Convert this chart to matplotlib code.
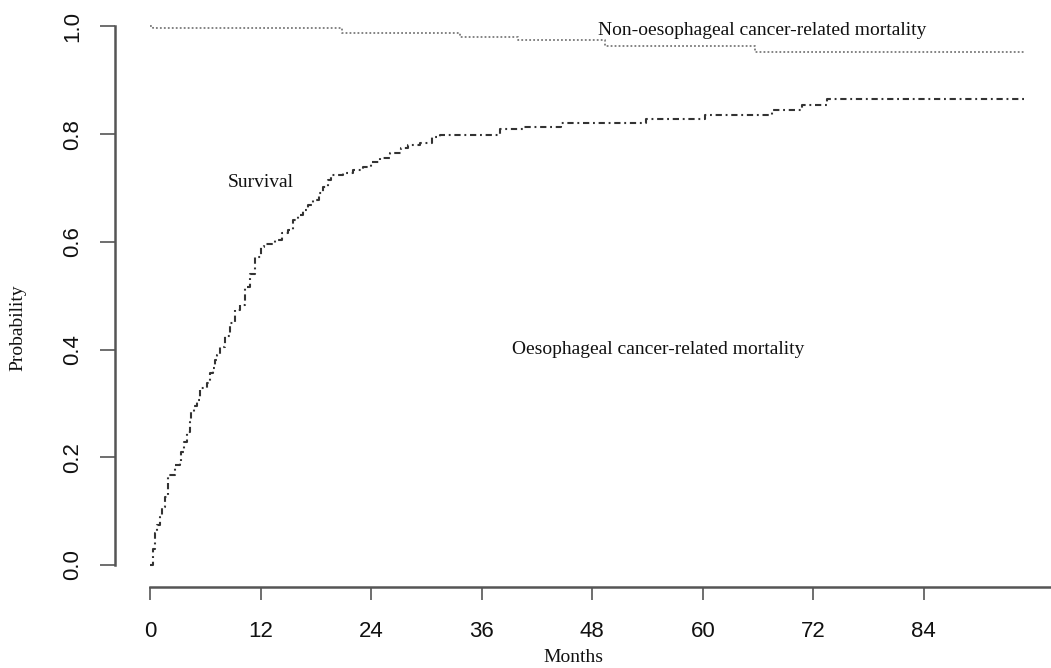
import numpy as np
import matplotlib
matplotlib.use("Agg")
import matplotlib.pyplot as plt

# step points (months, probability)
surv_months = [0, 0.3, 0.55, 0.8, 1.1, 1.35, 1.65, 2.0, 2.7, 3.3, 3.4, 3.7,
               4.0, 4.3, 4.5, 4.8, 5.1, 5.4, 6.15, 6.5, 6.8, 7.05, 7.3, 7.6,
               8.1, 8.7, 9.2, 9.8, 10.3, 10.8, 11.4, 12.0, 12.4, 13.6, 14.3,
               15.0, 15.5, 16.1, 16.6, 17.2, 17.7, 18.3, 18.8, 19.3, 19.7,
               20.9, 22.0, 23.1, 24.0, 25.0, 26.0, 27.2, 28.0, 29.3, 30.6,
               31.5, 38.0, 40.5, 44.6, 53.8, 60.2, 67.5, 70.8, 73.5, 95.0]
surv_prob = [0.0, 0.03, 0.06, 0.075, 0.089, 0.108, 0.126, 0.167, 0.186,
             0.191, 0.21, 0.228, 0.247, 0.265, 0.284, 0.295, 0.306, 0.328,
             0.338, 0.356, 0.366, 0.38, 0.39, 0.405, 0.425, 0.449, 0.473,
             0.483, 0.516, 0.54, 0.572, 0.59, 0.596, 0.604, 0.617, 0.622,
             0.64, 0.65, 0.659, 0.668, 0.678, 0.69, 0.702, 0.714, 0.724,
             0.728, 0.733, 0.739, 0.748, 0.756, 0.765, 0.774, 0.78, 0.784,
             0.795, 0.799, 0.81, 0.814, 0.821, 0.828, 0.836, 0.845, 0.854,
             0.865, 0.865]

other_months = [0, 0.3, 20.8, 33.6, 39.9, 49.4, 65.7, 95.0]
other_prob = [1.0, 0.997, 0.988, 0.980, 0.974, 0.963, 0.952, 0.952]

x_ticks = [0, 12, 24, 36, 48, 60, 72, 84]
y_ticks = [0.0, 0.2, 0.4, 0.6, 0.8, 1.0]

W, H = 1051, 668
fig = plt.figure(figsize=(W / 100, H / 100), dpi=100)
ax = fig.add_axes([115 / W, 81 / H, 1 - 115 / W, 1 - 81 / H])

ax.plot(surv_months, surv_prob, drawstyle="steps-post", color="#333333",
        lw=1.5, linestyle=(0, (3, 1.8, 0.9, 1.8)))
ax.plot(other_months, other_prob, drawstyle="steps-post", color="#7a7a7a",
        lw=1.3, linestyle=(0, (1, 1.2)))

ax.set_xlim(-3.8, 97.8)
ax.set_ylim(-0.0409, 1.0492)

# R-like axes: only left and bottom, detached ranges
for side in ["top", "right"]:
    ax.spines[side].set_visible(False)
ax.spines["left"].set_bounds(0, 1)
ax.spines["bottom"].set_bounds(0, 97.8)
for side in ["left", "bottom"]:
    ax.spines[side].set_color("#555555")
    ax.spines[side].set_linewidth(1.8)

ax.set_xticks(x_ticks)
ax.set_yticks(y_ticks)
ax.set_yticklabels(["%.1f" % v for v in y_ticks], rotation=90, va="center")
ax.tick_params(axis="x", length=9.5, width=1.2, color="#555555", pad=15,
               labelsize=16, labelcolor="#111111")
ax.tick_params(axis="y", length=10.8, width=1.2, color="#555555", pad=12,
               labelsize=16, labelcolor="#111111")
for lab in ax.get_xticklabels() + ax.get_yticklabels():
    lab.set_family("Liberation Sans")

serif = dict(family="Liberation Serif", fontsize=14, color="#111111")
ax.text(12, 0.71, "Survival", ha="center", va="center", **serif)
ax.text(66.5, 0.993, "Non-oesophageal cancer-related mortality",
        ha="center", va="center", **serif)
ax.text(55.2, 0.40, "Oesophageal cancer-related mortality",
        ha="center", va="center", **serif)

fig.text(18 / W, 1 - 328 / H, "Probability", rotation=90, ha="center",
         va="center", **serif)
fig.text(573 / W, 1 - 657 / H, "Months", ha="center", va="center", **serif)

fig.savefig("out.png", dpi=100)
